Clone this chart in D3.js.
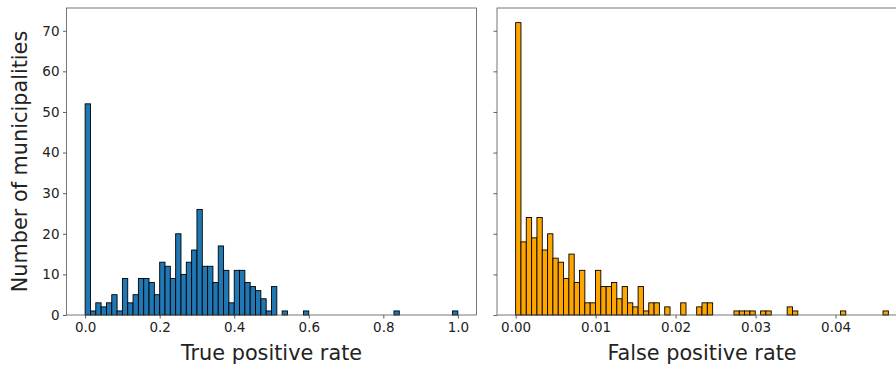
<!DOCTYPE html>
<html>
<head>
<meta charset="utf-8">
<script src="https://d3js.org/d3.v7.min.js"></script>
<style>
body { margin: 0; background: #fff; }
text { font-family: "DejaVu Sans", sans-serif; fill: #222; }
</style>
</head>
<body>
<svg id="chart" width="896" height="369"></svg>
<script>
// histogram counts, 70 equal bins from 0 to the max value
var tprMax = 1.0;
var tprCounts = [52,1,3,2,3,5,1,9,3,5,9,9,8,5,13,12,9,20,10,13,16,26,12,12,8,17,11,3,11,11,8,7,6,4,1,7,0,1,
  0,0,0,1,0,0,0,0,0,0,0,0,0,0,0,0,0,0,0,0,1,0,0,0,0,0,0,0,0,0,0,1];
var fprMax = 0.0466;
var fprCounts = [72,18,24,19,24,16,20,14,13,9,15,8,11,3,3,11,7,7,8,4,7,3,2,7,1,3,3,0,2,0,0,3,0,0,2,3,3,0,0,0,
  0,1,1,1,1,0,1,1,0,0,0,2,1,0,0,0,0,0,0,0,0,1,0,0,0,0,0,0,0,1];
var tprTicks = [0, 0.2, 0.4, 0.6, 0.8, 1.0];
var fprTicks = [0, 0.01, 0.02, 0.03, 0.04];
var yTicks = [0, 10, 20, 30, 40, 50, 60, 70];

var svg = d3.select("#chart");
var plotTop = 8, plotBottom = 315;
var yMax = d3.max(tprCounts.concat(fprCounts)) * 1.05;
var y = d3.scaleLinear().domain([0, yMax]).range([plotBottom, plotTop]);

function panel(counts, maxVal, left, width, color, ticks, fmt, label, showY) {
  var x = d3.scaleLinear().domain([-0.05 * maxVal, 1.05 * maxVal]).range([left, left + width]);
  var bw = maxVal / counts.length;
  var bins = counts.map(function(c, i) { return {i: i, c: c}; })
    .filter(function(d) { return d.c > 0; });
  var g = svg.append("g");

  // bars
  g.selectAll("rect.bar")
    .data(bins)
    .enter()
    .append("rect")
    .attr("class", "bar")
    .attr("x", function(d) { return x(d.i * bw); })
    .attr("width", function(d) { return x((d.i + 1) * bw) - x(d.i * bw); })
    .attr("y", function(d) { return y(d.c); })
    .attr("height", function(d) { return y(0) - y(d.c); })
    .style("fill", color)
    .style("stroke", "#000")
    .style("stroke-width", 0.9);

  // x axis
  var xa = g.append("g")
    .attr("transform", "translate(0," + plotBottom + ")")
    .call(d3.axisBottom(x).tickValues(ticks).tickFormat(d3.format(fmt)).tickSizeOuter(0).tickSize(3.5).tickPadding(3.5));
  xa.select(".domain").remove();

  // y axis
  var ya = g.append("g")
    .attr("transform", "translate(" + left + ",0)")
    .call(d3.axisLeft(y).tickValues(yTicks).tickSizeOuter(0).tickSize(3.5).tickPadding(3.5)
      .tickFormat(showY ? d3.format("d") : function() { return ""; }));
  ya.select(".domain").remove();

  g.selectAll(".tick line").style("stroke", "#333").style("stroke-width", 0.8);
  g.selectAll(".tick text").style("font-size", "13.5px").style("fill", "#222")
    .style("font-family", "'DejaVu Sans', sans-serif");

  // spines
  g.append("rect")
    .attr("x", left).attr("y", plotTop)
    .attr("width", width).attr("height", plotBottom - plotTop)
    .style("fill", "none").style("stroke", "#555").style("stroke-width", 0.8);

  g.append("text")
    .attr("x", left + width / 2)
    .attr("y", 360)
    .attr("text-anchor", "middle")
    .style("font-size", "20.8px")
    .text(label);
}

panel(tprCounts, tprMax, 66.5, 410, "#1f77b4", tprTicks, ".1f", "True positive rate", true);
panel(fprCounts, fprMax, 497, 410, "#ffa500", fprTicks, ".2f", "False positive rate", false);

svg.append("text")
  .attr("transform", "translate(27," + ((plotTop + plotBottom) / 2) + ") rotate(-90)")
  .attr("text-anchor", "middle")
  .style("font-size", "20.8px")
  .text("Number of municipalities");
</script>
</body>
</html>
